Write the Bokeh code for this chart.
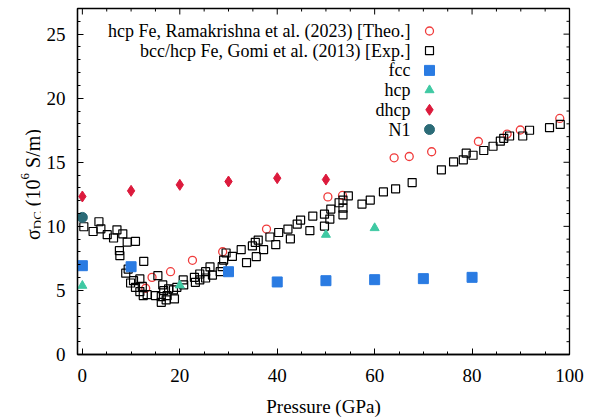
import numpy as np
from bokeh.plotting import figure
from bokeh.models import Range1d, Label, SingleIntervalTicker, Div
from bokeh.layouts import row
from bokeh.embed import file_html
from bokeh.resources import INLINE

# ---------------- data ----------------
theo_p = [13.0, 14.3, 18.1, 22.6, 28.8, 37.8, 50.4, 53.4, 64.0, 67.1, 71.7, 81.3, 87.2, 89.9, 98.0]
theo_s = [5.17, 6.02, 6.46, 7.35, 8.02, 9.79, 12.3, 12.41, 15.35, 15.45, 15.82, 16.62, 17.2, 17.52, 18.42]

gomi_p = [0.3, 2.2, 3.4, 3.8, 5.1, 6.4, 7.1, 7.6, 7.7, 8.3, 8.9, 9.2, 9.4, 9.9, 10.5, 10.9, 10.9,
          11.8, 11.8, 12.3, 12.5, 12.6, 13.3, 15.0, 15.5, 16.2, 16.2, 16.5, 16.7, 17.2, 17.4, 17.7,
          18.7, 18.9, 19.4, 20.7, 20.8, 23.0, 23.2, 24.1, 24.1, 25.3, 25.3, 26.2, 26.7, 28.3, 28.7,
          29.0, 29.5, 30.8, 32.6, 33.7, 34.9, 35.5, 35.7, 36.1, 37.2, 38.5, 39.7, 40.3, 42.2, 42.7,
          44.1, 44.8, 46.7, 47.3, 49.7, 49.7, 50.8, 51.0, 52.7, 53.5, 53.5, 53.5, 54.6, 57.4, 59.1,
          61.8, 64.3, 67.7, 73.7, 76.2, 78.2, 78.8, 80.2, 82.4, 84.3, 85.8, 86.5, 87.7, 90.4, 91.8,
          95.9, 98.1]
gomi_s = [9.97, 9.6, 10.36, 9.81, 9.35, 9.09, 9.73, 8.1, 7.71, 9.42, 6.35, 8.77, 6.67, 5.58, 5.76, 8.83, 5.24,
          5.9, 4.91, 5.32, 4.6, 7.27, 4.67, 4.6, 6.15, 4.52, 4.07, 5.43, 4.98, 4.26, 4.6, 5.12,
          5.04, 4.34, 5.24, 5.82, 5.43, 6.02, 5.63, 6.28, 5.82, 6.46, 5.97, 6.83, 6.2, 6.46, 6.85,
          7.37, 7.92, 7.66, 8.18, 7.17, 8.47, 8.75, 7.63, 8.93, 8.18, 9.17, 8.57, 9.52, 9.79, 9.03,
          10.18, 10.49, 9.66, 10.8, 10.95, 10.02, 10.57, 11.35, 11.84, 12.05, 11.42, 10.9, 12.38, 11.74, 12.05,
          12.69, 12.93, 13.42, 14.41, 15.03, 15.19, 15.71, 15.55, 15.92, 16.25, 16.65, 16.87, 17.05, 17.05, 17.5,
          17.7, 17.95]

fcc_p = [0, 10, 30, 40, 50, 60, 70, 80]
fcc_s = [6.93, 6.85, 6.46, 5.66, 5.76, 5.84, 5.92, 6.02]

hcp_p = [0, 20, 50, 60]
hcp_s = [5.37, 5.4, 9.35, 9.87]

dhcp_p = [0, 10, 20, 30, 40, 50]
dhcp_s = [12.33, 12.77, 13.24, 13.5, 13.76, 13.65]

n1_p = [0]
n1_s = [10.7]

legend_labels = ["hcp Fe, Ramakrishna et al. (2023) [Theo.]",
                 "bcc/hcp Fe, Gomi et al. (2013) [Exp.]",
                 "fcc", "hcp", "dhcp", "N1"]

x_label = "Pressure (GPa)"
x_tick_step, x_minor_step = 20, 5
y_tick_step, y_minor_step = 5, 1

# ---------------- styles / layout ----------------
FONT = "Liberation Serif"
X0, X1 = -1, 100
Y0, Y1 = 0, 27
FW, FH = 492, 346
LEFT_W = 40           # width of the rotated y-label block
B_LEFT, B_RIGHT, B_TOP, B_BOTTOM = 77 - LEFT_W, 20, 8, 60
FIG_H = B_TOP + FH + B_BOTTOM

styles = [
    dict(marker="circle", size=8, line_color="#f03c3c", fill_color=None, line_width=1.3),
    dict(marker="square", size=8, line_color="black", fill_color=None, line_width=1.2),
    dict(marker="square", size=10, line_color="#2a7be2", fill_color="#2a7be2", line_width=1),
    dict(marker="triangle", size=9, line_color="#3fc9a3", fill_color="#3fc9a3", line_width=1),
    dict(marker="diamond", size=11, line_color="#dc1a3c", fill_color="#dc1a3c", line_width=1),
    dict(marker="circle", size=10, line_color="#2b6b77", fill_color="#2b6b77", line_width=1),
]

p = figure(frame_width=FW, frame_height=FH,
           x_range=Range1d(X0, X1), y_range=Range1d(Y0, Y1),
           output_backend="svg", toolbar_location=None,
           min_border_left=B_LEFT, min_border_right=B_RIGHT,
           min_border_top=B_TOP, min_border_bottom=B_BOTTOM,
           background_fill_color="white", border_fill_color="white")
p.grid.visible = False
p.outline_line_color = "black"
p.outline_line_width = 1.3

series = [(theo_p, theo_s), (gomi_p, gomi_s), (fcc_p, fcc_s), (hcp_p, hcp_s),
          (dhcp_p, dhcp_s), (n1_p, n1_s)]
for (xs, ys), st in zip(series, styles):
    p.scatter(xs, ys, **st)

def style_axis(ax):
    ax.major_tick_in = 6
    ax.major_tick_out = 0
    ax.minor_tick_in = 3
    ax.minor_tick_out = 0
    ax.major_tick_line_color = "black"
    ax.minor_tick_line_color = "black"
    ax.axis_line_color = "black"
    ax.axis_line_width = 1.3
    ax.major_label_text_font = FONT
    ax.major_label_text_color = "black"
    ax.major_label_text_font_size = "19px"

p.xaxis.ticker = SingleIntervalTicker(interval=x_tick_step, num_minor_ticks=x_tick_step // x_minor_step)
p.yaxis.ticker = SingleIntervalTicker(interval=y_tick_step, num_minor_ticks=y_tick_step // y_minor_step)
style_axis(p.xaxis[0])
style_axis(p.yaxis[0])
p.xaxis.major_label_standoff = 14
p.yaxis.major_label_standoff = 12
p.xaxis.axis_label = x_label
p.xaxis.axis_label_text_font = FONT
p.xaxis.axis_label_text_font_style = "normal"
p.xaxis.axis_label_text_font_size = "19px"
p.xaxis.axis_label_text_color = "black"
p.xaxis.axis_label_standoff = 11

# mirrored inward ticks on top and right frame edges (no labels)
x_major = np.arange(0, X1 + 0.01, x_tick_step)
x_minor = np.array([v for v in np.arange(0, X1 + 0.01, x_minor_step) if v % x_tick_step])
y_major = np.arange(0, Y1 + 0.01, y_tick_step)
y_minor = np.array([v for v in np.arange(0, Y1 + 0.01, y_minor_step) if v % y_tick_step])
p.ray(x_major, [Y1] * len(x_major), length=6, angle=-np.pi / 2, length_units="screen", line_color="black", line_width=1)
p.ray(x_minor, [Y1] * len(x_minor), length=3, angle=-np.pi / 2, length_units="screen", line_color="black", line_width=1)
p.ray([X1] * len(y_major), y_major, length=6, angle=np.pi, length_units="screen", line_color="black", line_width=1)
p.ray([X1] * len(y_minor), y_minor, length=3, angle=np.pi, length_units="screen", line_color="black", line_width=1)

# ---------------- legend (text right-aligned, marker to the right) ----------------
def fx(sx):
    return X0 + sx / FW * (X1 - X0)

def fy(sy):
    return Y0 + sy / FH * (Y1 - Y0)

text_right = 333
marker_sx = 352
row0 = FH - 22.5
for i, (lab, st) in enumerate(zip(legend_labels, styles)):
    sy = row0 - 19.7 * i
    p.add_layout(Label(x=text_right, y=sy, x_units="screen", y_units="screen", text=lab,
                       text_font=FONT, text_font_size="18px", text_align="right",
                       text_baseline="middle", text_color="black"))
    p.scatter([fx(marker_sx)], [fy(sy)], **st)

# ---------------- rotated y-axis label with sub/superscripts ----------------
start_from_bottom = FIG_H - 240
ylab_html = (
    f'<div style="width:{LEFT_W}px;height:{FIG_H}px;box-sizing:border-box;'
    f'writing-mode:vertical-rl;transform:rotate(180deg);white-space:nowrap;'
    f'padding-top:{start_from_bottom}px;padding-right:13px;'
    f'font-family:\'{FONT}\';font-size:20px;line-height:24px;color:black;">'
    'σ<sub style="font-size:13px;">DC</sub> (10<sup style="font-size:13px;">6</sup> S/m)'
    '</div>'
)
ylab = Div(text=ylab_html, width=LEFT_W, height=FIG_H, margin=0)

layout = row(ylab, p, spacing=0)
open("out.html", "w").write(file_html(layout, INLINE))
